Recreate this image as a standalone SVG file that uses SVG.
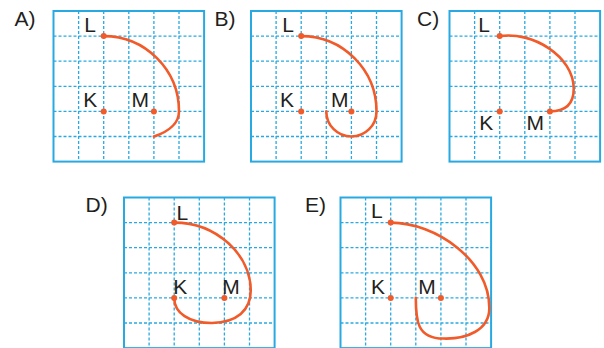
<svg xmlns="http://www.w3.org/2000/svg" xmlns:xlink="http://www.w3.org/1999/xlink" width="604" height="348" viewBox="0 0 604 348">
<style>
.dash{stroke:#29a9e1;stroke-width:1.3;stroke-dasharray:3 2;fill:none}
.border{stroke:#29a9e1;stroke-width:2;fill:none}
.curve{stroke:#f15a29;stroke-width:2.6;fill:none;stroke-linecap:round}
.pt{fill:#f15a29}
.lbl{font-family:"Liberation Sans",Arial,sans-serif;font-size:21px;fill:#231f20}
</style>
<defs>
<g id="grid">
<path class="dash" d="M25.1,0V150.6M50.2,0V150.6M75.3,0V150.6M100.4,0V150.6M125.5,0V150.6M0,25.1H150.6M0,50.2H150.6M0,75.3H150.6M0,100.4H150.6M0,125.5H150.6"/>
<rect class="border" x="0" y="0" width="150.6" height="150.6"/>
</g>
</defs>
<rect width="604" height="348" fill="#fff"/>
<g id="panelA">
<use xlink:href="#grid" href="#grid" transform="translate(53.5,11)"/>
<path class="curve" transform="translate(53.5,11)" d="M50.2,25.1A75.3,75.3 0 0 1 125.5,100.4C125.5,111.7 115.5,120.5 100.4,125.5"/>
<circle class="pt" cx="103.7" cy="36.1" r="3"/>
<circle class="pt" cx="103.7" cy="111.4" r="3"/>
<circle class="pt" cx="153.9" cy="111.4" r="3"/>
<text class="lbl" x="14.5" y="25.5">A)</text>
<text class="lbl" x="84.3" y="31.7">L</text>
<text class="lbl" x="83.3" y="106.7">K</text>
<text class="lbl" x="131.6" y="106.7">M</text>
</g>
<g id="panelB">
<use xlink:href="#grid" href="#grid" transform="translate(251,11)"/>
<path class="curve" transform="translate(251,11)" d="M50.2,25.1A75.3,75.3 0 0 1 125.5,100.4A25.1,25.1 0 0 1 100.4,125.5A25.1,25.1 0 0 1 75.3,100.4"/>
<circle class="pt" cx="301.2" cy="36.1" r="3"/>
<circle class="pt" cx="301.2" cy="111.4" r="3"/>
<circle class="pt" cx="351.4" cy="111.4" r="3"/>
<text class="lbl" x="214.6" y="25.5">B)</text>
<text class="lbl" x="282.3" y="31.7">L</text>
<text class="lbl" x="280" y="106.5">K</text>
<text class="lbl" x="331" y="106.5">M</text>
</g>
<g id="panelC">
<use xlink:href="#grid" href="#grid" transform="translate(449.5,11)"/>
<path class="curve" transform="translate(449.5,11) scale(25.1)" style="stroke-width:0.1036" d="M2,1C3.3,0.8 4.95,1.8 4.95,3.1C4.95,3.75 4.6,4 4,4"/>
<circle class="pt" cx="499.7" cy="36.1" r="3"/>
<circle class="pt" cx="499.7" cy="111.4" r="3"/>
<circle class="pt" cx="549.9" cy="111.4" r="3"/>
<text class="lbl" x="417" y="25.5">C)</text>
<text class="lbl" x="478.3" y="31.7">L</text>
<text class="lbl" x="479.3" y="130">K</text>
<text class="lbl" x="526.6" y="130">M</text>
</g>
<g id="panelD">
<use xlink:href="#grid" href="#grid" transform="translate(124,197.5)"/>
<path class="curve" transform="translate(124,197.5) scale(25.1)" style="stroke-width:0.1036" d="M2,1C3.7,1 5.05,2.3 5.05,3.7C5.05,4.5 4.5,4.98 3.5,5C2.6,5 2,4.6 2,4"/>
<circle class="pt" cx="174.2" cy="222.6" r="3"/>
<circle class="pt" cx="174.2" cy="297.9" r="3"/>
<circle class="pt" cx="224.4" cy="297.9" r="3"/>
<text class="lbl" x="85.6" y="212">D)</text>
<text class="lbl" x="176.6" y="219.7">L</text>
<text class="lbl" x="173.3" y="294">K</text>
<text class="lbl" x="222.3" y="294">M</text>
</g>
<g id="panelE">
<use xlink:href="#grid" href="#grid" transform="translate(340.5,197.5)"/>
<path class="curve" transform="translate(340.5,197.5) scale(25.1)" style="stroke-width:0.1036" d="M2,1C3.8,1 5.93,2.5 5.93,4.4C5.93,5.3 5,5.65 4.1,5.62C3.05,5.62 3,4.9 3,4"/>
<circle class="pt" cx="390.7" cy="222.6" r="3"/>
<circle class="pt" cx="390.7" cy="297.9" r="3"/>
<circle class="pt" cx="440.9" cy="297.9" r="3"/>
<text class="lbl" x="305" y="212">E)</text>
<text class="lbl" x="371" y="218.3">L</text>
<text class="lbl" x="371" y="293.7">K</text>
<text class="lbl" x="418.3" y="293.7">M</text>
</g>
</svg>
